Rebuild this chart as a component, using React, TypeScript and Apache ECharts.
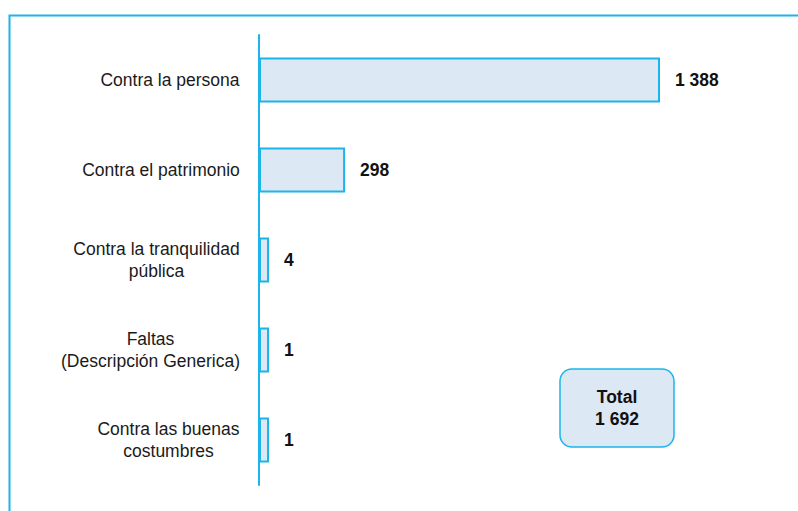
import React, { useEffect, useRef } from "react";
import * as echarts from "echarts";

const categories = [
  "Contra la persona",
  "Contra el patrimonio",
  "Contra la tranquilidad\npública",
  "Faltas\n(Descripción Generica)",
  "Contra las buenas\ncostumbres",
];
const values = [1388, 298, 4, 1, 1];
const totalLabel = "Total";
const totalValue = "1 692";

const fmt = (v: number) => String(v).replace(/\B(?=(\d{3})+(?!\d))/g, " ");

const CYAN = "#1db4ea";
const FILL = "#dde8f5";
const FONT = "'Liberation Sans', Arial, Helvetica, sans-serif";
const FONT_SIZE = 17.5;

function measure(text: string, font: string): number {
  const c = document.createElement("canvas").getContext("2d");
  if (!c) return text.length * 8;
  c.font = font;
  return c.measureText(text).width;
}

export default function App() {
  const ref = useRef<HTMLDivElement>(null);
  useEffect(() => {
    if (!ref.current) return;
    const chart = echarts.init(ref.current, undefined, { renderer: "svg" });
    const rich: Record<string, any> = {};
    categories.forEach((cat, i) => {
      const w = Math.ceil(
        Math.max(...cat.split("\n").map((l) => measure(l, `${FONT_SIZE}px ${FONT}`)))
      );
      rich["l" + i] = {
        width: w,
        align: "center",
        fontSize: FONT_SIZE,
        lineHeight: 22,
        fontFamily: FONT,
        color: "#1a1a1a",
      };
    });
    chart.setOption({
      animation: false,
      backgroundColor: "#ffffff",
      grid: { left: 259, top: 35, width: 401, height: 450 },
      xAxis: {
        type: "value",
        min: 0,
        max: 1388,
        show: false,
      },
      yAxis: {
        type: "category",
        inverse: true,
        data: categories,
        axisLine: { show: true, lineStyle: { color: CYAN, width: 2 } },
        axisTick: { show: false },
        splitLine: { show: false },
        axisLabel: {
          margin: 19,
          color: "#1a1a1a",
          fontSize: FONT_SIZE,
          lineHeight: 22,
          fontFamily: FONT,
          align: "right",
          formatter: (value: string) => {
            const idx = categories.indexOf(value);
            return value
              .split("\n")
              .map((l) => `{l${idx}|${l}}`)
              .join("\n");
          },
          rich,
        },
      },
      series: [
        {
          type: "bar",
          data: values,
          barWidth: 45,
          barMinHeight: 10,
          itemStyle: { color: FILL, borderColor: CYAN, borderWidth: 2 },
          label: {
            show: true,
            position: "right",
            distance: 15,
            color: "#111",
            fontWeight: "bold",
            fontSize: FONT_SIZE,
            fontFamily: FONT,
            formatter: (p: any) => fmt(p.value),
          },
        },
      ],
      graphic: [
        {
          type: "rect",
          left: 7,
          top: 13,
          shape: { x: 0, y: 0, width: 820, height: 520 },
          style: { fill: "none", stroke: CYAN, lineWidth: 2 },
          silent: true,
        },
        {
          type: "rect",
          shape: { x: 560, y: 369, width: 114, height: 78, r: 12 },
          style: { fill: FILL, stroke: CYAN, lineWidth: 1.5 },
        },
        {
          type: "text",
          x: 617,
          y: 408,
          style: {
            text: totalLabel + "\n" + totalValue,
            fill: "#111",
            font: `bold ${FONT_SIZE}px ${FONT}`,
            lineHeight: 22,
            align: "center",
            verticalAlign: "middle",
          },
        },
      ],
    });
    return () => chart.dispose();
  }, []);
  return (
    <div
      ref={ref}
      style={{ position: "fixed", left: 0, top: 0, width: 798, height: 511 }}
    />
  );
}
